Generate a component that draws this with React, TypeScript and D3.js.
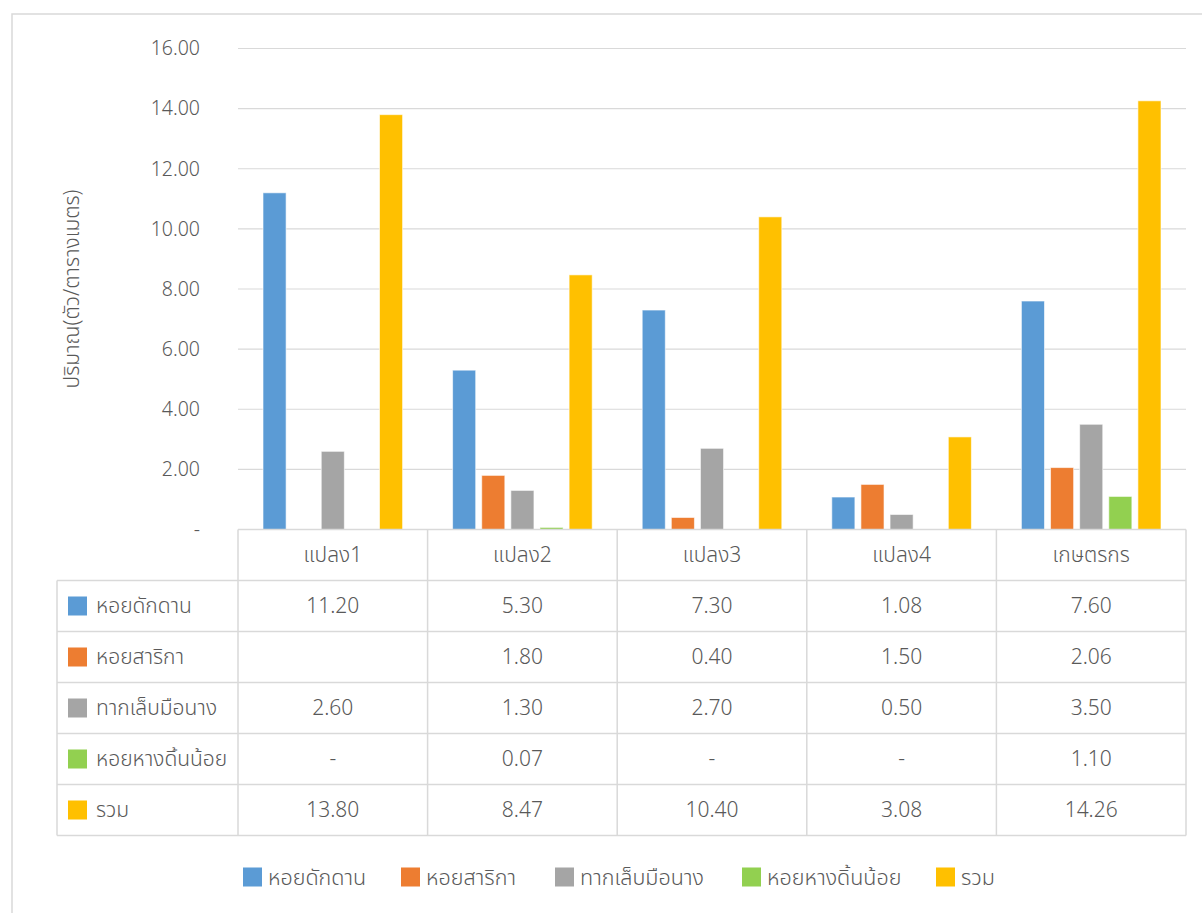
import React from "react";
import * as d3 from "d3";

// Plots (columns) and species (series)
const categories = ["แปลง1", "แปลง2", "แปลง3", "แปลง4", "เกษตรกร"];
const seriesNames = ["หอยดักดาน", "หอยสาริกา", "ทากเล็บมือนาง", "หอยหางดิ้นน้อย", "รวม"];
const seriesColors = ["#5b9bd5", "#ed7d31", "#a5a5a5", "#92d050", "#ffc000"];

// null = empty cell, 0 = "-"
const hoiDakDan = [11.2, 5.3, 7.3, 1.08, 7.6];
const hoiSarika = [null, 1.8, 0.4, 1.5, 2.06];
const takLebMueNang = [2.6, 1.3, 2.7, 0.5, 3.5];
const hoiHangDinNoi = [0, 0.07, 0, 0, 1.1];
const ruam = [13.8, 8.47, 10.4, 3.08, 14.26];
const seriesValues: (number | null)[][] = [hoiDakDan, hoiSarika, takLebMueNang, hoiHangDinNoi, ruam];

const yTicks = [0, 2, 4, 6, 8, 10, 12, 14, 16];
const yTitle = "ปริมาณ(ตัว/ตารางเมตร)";

const W = 1202;
const H = 913;
const FONT = "'Noto Sans Thai', Tahoma, 'Noto Sans', 'DejaVu Sans', sans-serif";
const TEXT = "#595959";
const LINE = "#d9d9d9";

export default function App() {
  const plotLeft = 238;
  const plotRight = 1186;
  const y = d3.scaleLinear().domain([0, 16]).range([529.5, 48.5]);
  const x = d3.scaleBand<string>().domain(categories).range([plotLeft, plotRight]).paddingInner(0).paddingOuter(0);
  const step = x.bandwidth();
  const xs = d3.scaleBand<string>().domain(seriesNames).range([25, step - 25]).paddingInner(0.207).paddingOuter(0);

  const tableLeft = 57;
  const headTop = 529.5;
  const rowH = 51;
  const rowsTop = headTop + rowH;
  const tableBottom = rowsTop + rowH * seriesNames.length;

  const fmt = (v: number | null) => (v === null ? "" : v === 0 ? "-" : d3.format(".2f")(v));

  // legend layout
  const legendX = [243, 401, 555, 742, 936];

  return (
    <svg width={W} height={H} style={{ position: "absolute", left: 0, top: 0, fontFamily: FONT, fontWeight: 300 }}>
      <rect x={0} y={0} width={W} height={H} fill="#fff" />
      <rect x={12} y={14} width={W + 20} height={H + 20} fill="none" stroke={LINE} strokeWidth={1.5} />

      {/* gridlines and y tick labels */}
      {yTicks.map((t) => (
        <g key={t}>
          {t > 0 && <line x1={plotLeft} x2={plotRight} y1={y(t)} y2={y(t)} stroke={LINE} strokeWidth={1.2} />}
          <text x={200} y={y(t)} dy="0.35em" textAnchor="end" fontSize={19.5} fill={TEXT}>
            {t === 0 ? "-" : d3.format(".2f")(t)}
          </text>
        </g>
      ))}

      <text
        transform={`translate(72,289) rotate(-90)`}
        textAnchor="middle"
        fontSize={21}
        fill={TEXT}
        dy="0.35em"
      >
        {yTitle}
      </text>

      {/* bars */}
      {categories.map((c, ci) => (
        <g key={c} transform={`translate(${x(c)},0)`}>
          {seriesNames.map((s, si) => {
            const v = seriesValues[si][ci];
            if (v === null || v === 0) return null;
            return (
              <rect
                key={s}
                x={xs(s)}
                y={y(v)}
                width={xs.bandwidth()}
                height={y(0) - y(v)}
                fill={seriesColors[si]}
                stroke="#ffffff"
                strokeOpacity={0.6}
                strokeWidth={1}
              />
            );
          })}
        </g>
      ))}

      {/* data table */}
      <g stroke={LINE} strokeWidth={1.5} fill="none">
        <line x1={plotLeft} x2={plotRight} y1={headTop} y2={headTop} />
        {seriesNames.map((s, i) => (
          <line key={s} x1={tableLeft} x2={plotRight} y1={rowsTop + i * rowH} y2={rowsTop + i * rowH} />
        ))}
        <line x1={tableLeft} x2={plotRight} y1={tableBottom} y2={tableBottom} />
        <line x1={tableLeft} x2={tableLeft} y1={rowsTop} y2={tableBottom} />
        {categories.map((c) => (
          <line key={c} x1={x(c)} x2={x(c)} y1={headTop} y2={tableBottom} />
        ))}
        <line x1={plotRight} x2={plotRight} y1={headTop} y2={tableBottom} />
      </g>

      {categories.map((c) => (
        <text key={c} x={(x(c) as number) + step / 2} y={headTop + rowH / 2} dy="0.35em" textAnchor="middle" fontSize={21} fill={TEXT}>
          {c}
        </text>
      ))}

      {seriesNames.map((s, si) => {
        const cy = rowsTop + si * rowH + rowH / 2;
        return (
          <g key={s}>
            <rect x={68} y={cy - 9.5} width={19} height={19} fill={seriesColors[si]} />
            <text x={96} y={cy} dy="0.35em" fontSize={21} fill={TEXT}>
              {s}
            </text>
            {categories.map((c, ci) => (
              <text key={c} x={(x(c) as number) + step / 2} y={cy} dy="0.35em" textAnchor="middle" fontSize={21} fill={TEXT}>
                {fmt(seriesValues[si][ci])}
              </text>
            ))}
          </g>
        );
      })}

      {/* legend */}
      {seriesNames.map((s, i) => (
        <g key={s} transform={`translate(${legendX[i]},877)`}>
          <rect x={0} y={-9.5} width={19} height={19} fill={seriesColors[i]} />
          <text x={25} y={0} dy="0.35em" fontSize={21.5} fill={TEXT}>
            {s}
          </text>
        </g>
      ))}
    </svg>
  );
}
